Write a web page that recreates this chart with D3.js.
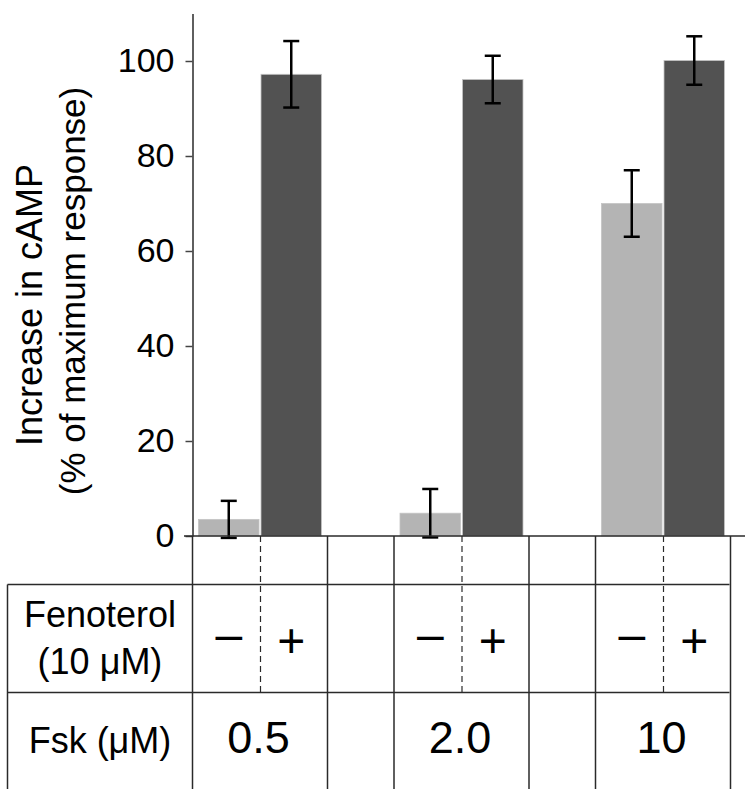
<!DOCTYPE html>
<html>
<head>
<meta charset="utf-8">
<script src="https://cdn.jsdelivr.net/npm/d3@7"></script>
<style>
  html, body { margin: 0; padding: 0; background: #fff; }
  svg { display: block; }
  text { font-family: "Liberation Sans", Arial, sans-serif; fill: #000; }
</style>
</head>
<body>
<div id="chart"></div>
<script>
// ---- data ----
const groups = ["0.5", "2.0", "10"];              // Fsk (µM)
const fenoterolKeys = ["−", "+"];                 // Fenoterol (10 µM) absent / present
const valuesWithout = [3.5, 4.8, 70];             // light bars
const errorsWithout = [3.9, 5.1, 7];
const valuesWith = [97.2, 96.1, 100.1];           // dark bars
const errorsWith = [7, 5, 5.1];
const yTicks = [0, 20, 40, 60, 80, 100];
const yTitle = ["Increase in cAMP", "(% of maximum response)"];
const rowLabelFen = ["Fenoterol", "(10 μM)"];
const rowLabelFsk = "Fsk (μM)";

const W = 745, H = 789;
const colors = { "−": "#b4b4b4", "+": "#525252" };
const lineColor = "#2a2a2a";

const svg = d3.select("#chart").append("svg")
  .attr("width", W).attr("height", H);

// scales
const y = d3.scaleLinear().domain([0, 110]).range([536, 13.5]);
const x0 = d3.scalePoint().domain(groups).range([260.5, 663.5]);
const x1 = d3.scaleBand().domain(fenoterolKeys).range([-62, 61]).paddingInner(0.032);

const data = [];
groups.forEach((g, i) => {
  data.push({ group: g, key: "−", value: valuesWithout[i], err: errorsWithout[i] });
  data.push({ group: g, key: "+", value: valuesWith[i], err: errorsWith[i] });
});

// bars
svg.append("g").selectAll("rect").data(data).join("rect")
  .attr("x", d => x0(d.group) + x1(d.key))
  .attr("width", x1.bandwidth())
  .attr("y", d => y(d.value))
  .attr("height", d => y(0) - y(d.value))
  .attr("fill", d => colors[d.key])
  .attr("stroke", "#c4c4c4")
  .attr("stroke-width", 0.8);

// error bars
const eb = svg.append("g").attr("stroke", "#000").attr("stroke-width", 2.5);
data.forEach(d => {
  const cx = x0(d.group) + x1(d.key) + x1.bandwidth() / 2;
  const top = y(d.value + d.err), bot = y(d.value - d.err);
  eb.append("line").attr("x1", cx).attr("x2", cx).attr("y1", top).attr("y2", bot);
  eb.append("line").attr("x1", cx - 8).attr("x2", cx + 8).attr("y1", top).attr("y2", top);
  eb.append("line").attr("x1", cx - 8).attr("x2", cx + 8).attr("y1", bot).attr("y2", bot);
});

// y axis
const axisX = 192.5;
const yAxis = svg.append("g")
  .attr("transform", `translate(${axisX},0)`)
  .call(d3.axisLeft(y).tickValues(yTicks).tickSize(7).tickSizeOuter(0).tickPadding(11));
yAxis.select(".domain").attr("stroke", lineColor).attr("stroke-width", 1.5);
yAxis.selectAll(".tick line").attr("stroke", "#444").attr("stroke-width", 1.5);
yAxis.selectAll(".tick text")
  .attr("font-size", 34)
  .attr("font-family", "\"Liberation Sans\", Arial, sans-serif")
  .attr("fill", "#000");

// y title
svg.append("text")
  .attr("transform", "translate(42,305) rotate(-90)")
  .attr("text-anchor", "middle").attr("font-size", 36)
  .text(yTitle[0]);
svg.append("text")
  .attr("transform", "translate(85,291) rotate(-90)")
  .attr("text-anchor", "middle").attr("font-size", 35)
  .text(yTitle[1]);

// ---- table ----
const rowTop = y(0), row1 = 584.5, row2 = 692.5, tableBottom = H;
const leftEdge = 7.5, rightEdge = 729.5;
const tbl = svg.append("g").attr("stroke", lineColor).attr("stroke-width", 1.5).attr("fill", "none");

// baseline
tbl.append("line").attr("x1", 184).attr("x2", W).attr("y1", rowTop).attr("y2", rowTop);
// row lines
[row1, row2].forEach(r => tbl.append("line").attr("x1", leftEdge).attr("x2", rightEdge).attr("y1", r).attr("y2", r));
// left border
tbl.append("line").attr("x1", leftEdge).attr("x2", leftEdge).attr("y1", row1).attr("y2", tableBottom);
// axis continuation
tbl.append("line").attr("x1", axisX).attr("x2", axisX).attr("y1", rowTop).attr("y2", tableBottom);
// group cell borders
groups.forEach((g, i) => {
  const c = x0(g);
  const l = i === 0 ? axisX : c - 68;
  const r = c + 67;
  if (i > 0) tbl.append("line").attr("x1", l).attr("x2", l).attr("y1", rowTop).attr("y2", tableBottom);
  tbl.append("line").attr("x1", r).attr("x2", r).attr("y1", rowTop).attr("y2", tableBottom);
  tbl.append("line").attr("x1", c).attr("x2", c).attr("y1", rowTop).attr("y2", row2)
    .attr("stroke-width", 1.2).attr("stroke-dasharray", "6,4");
});

// row labels
svg.append("text").attr("x", 100).attr("y", 627).attr("text-anchor", "middle")
  .attr("font-size", 36).text(rowLabelFen[0]);
svg.append("text").attr("x", 100).attr("y", 674).attr("text-anchor", "middle")
  .attr("font-size", 36).text(rowLabelFen[1]);
svg.append("text").attr("x", 100).attr("y", 753).attr("text-anchor", "middle")
  .attr("font-size", 36).text(rowLabelFsk);

// +/- signs
groups.forEach(g => {
  fenoterolKeys.forEach(k => {
    const cx = x0(g) + x1(k) + x1.bandwidth() / 2;
    svg.append("text").attr("x", cx).attr("y", k === "+" ? 657 : 651)
      .attr("text-anchor", "middle").attr("font-size", 48)
      .text(k === "+" ? "+" : "–");
  });
  svg.append("text").attr("x", x0(g) - 2).attr("y", 753)
    .attr("text-anchor", "middle").attr("font-size", 45).text(g);
});
</script>
</body>
</html>
